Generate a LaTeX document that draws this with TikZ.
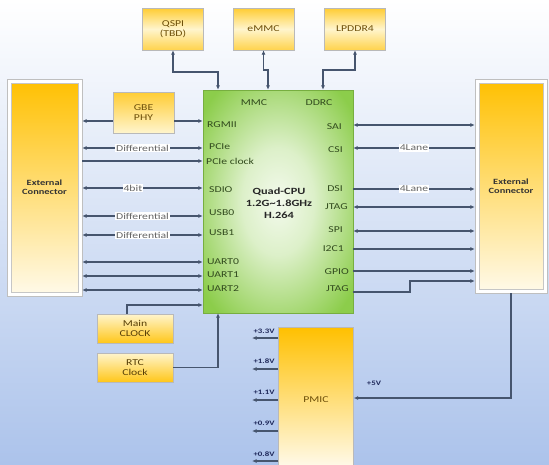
\documentclass[tikz,border=0pt]{standalone}
\usepackage{fontspec}
\setmainfont{Carlito}[FakeStretch=1.3]
\usetikzlibrary{arrows.meta}
\definecolor{ln}{RGB}{70,85,110}
\definecolor{bgb}{RGB}{172,195,235}
\definecolor{org}{RGB}{255,192,0}
\definecolor{pale}{RGB}{255,245,205}
\definecolor{grn}{RGB}{140,205,75}
\definecolor{cputxt}{RGB}{50,75,30}
\definecolor{boxtxt}{RGB}{110,80,10}
\definecolor{volt}{RGB}{30,40,90}
\pgfdeclareradialshading{cpushade}{\pgfpoint{0bp}{0bp}}{color(0bp)=(white!90!grn); color(12bp)=(white!70!grn); color(32bp)=(grn); color(50bp)=(grn)}
\begin{document}
\begin{tikzpicture}[x=1pt,y=-1pt,
  >={Latex[length=4.5pt,width=4pt]},
  wire/.style={draw=ln, line width=1.1pt},
  basefont/.style={font=\fontsize{9}{10.2}\selectfont},
  tbox/.style={basefont, draw=gray!55, top color=org!80!white, bottom color=org!70!white, middle color=pale, align=center, text=boxtxt, minimum width=61pt, minimum height=42pt, inner sep=1pt},
  gbox/.style={basefont, draw=gray!55, top color=org!80!white, bottom color=pale, align=center, text=boxtxt, minimum width=61pt, minimum height=41pt, inner sep=1pt},
  clkbox/.style={basefont, draw=gray!55, top color=pale, bottom color=org!90!white, align=center, text=boxtxt!80!black, minimum width=76pt, minimum height=29pt, inner sep=1pt},
  extbox/.style={draw=gray!50, fill=white, align=center, text=black!80, inner sep=1pt,
     font=\fontsize{8}{9.4}\selectfont\bfseries,
     path picture={\shade[top color=org, bottom color=white!92!org, draw=gray!45]
        ([shift={(4pt,-4pt)}]path picture bounding box.north west) rectangle
        ([shift={(-4pt,4pt)}]path picture bounding box.south east);}},
  cpubox/.style={draw=grn!85!black, shading=cpushade, minimum width=150pt, minimum height=223pt},
  pmicbox/.style={draw=gray!55, top color=org, bottom color=white!95!org, minimum width=75pt, minimum height=145pt, text=boxtxt, basefont},
  cpul/.style={basefont, text=cputxt, anchor=west, inner sep=0pt},
  cpur/.style={basefont, text=cputxt, anchor=east, inner sep=0pt},
  linelbl/.style={basefont, fill=white, text=black!60, inner sep=0.6pt},
  vlbl/.style={font=\fontsize{6.8}{7}\selectfont\bfseries, text=volt, inner sep=0pt}
]
\useasboundingbox (0,0) rectangle (549,464);
\shade[top color=white, bottom color=bgb] (0,0) rectangle (549,464);

% top boxes
\node[tbox] (qspi) at (173,29) {QSPI\\(TBD)};
\node[tbox] (emmc) at (263.5,29) {eMMC};
\node[tbox] (lpddr) at (355,29) {LPDDR4};

% CPU
\node[cpubox] (cpu) at (278,201.5) {};
\node[font=\fontsize{9.5}{12}\selectfont\bfseries, align=center, text=black!85] (core) at (279,203) {Quad-CPU\\1.2G\textasciitilde1.8GHz\\H.264};

% external connectors
\node[extbox, minimum width=75pt, minimum height=217pt] (extL) at (44.5,187.5) {External\\Connector};
\node[extbox, minimum width=72pt, minimum height=214pt] (extR) at (511,186) {External\\Connector};

% GBE PHY
\node[gbox] (gbe) at (143.5,112.5) {GBE\\PHY};

% clocks
\node[clkbox] (mainclk) at (135,328.5) {Main\\CLOCK};
\node[clkbox] (rtc) at (135,367.5) {RTC\\Clock};

% PMIC
\node[pmicbox] (pmic) at (316,399.5) {PMIC};

% CPU interface labels
\node[basefont, text=cputxt, inner sep=0pt] (lmmc) at (254,103) {MMC};
\node[basefont, text=cputxt, inner sep=0pt] (lddrc) at (319,103) {DDRC};
\node[cpul] (lrgmii) at (207,125) {RGMII};
\node[cpul] (lpcie) at (209,147) {PCIe};
\node[cpul] (lpcieclk) at (206,161) {PCIe clock};
\node[cpul] (lsdio) at (209,190) {SDIO};
\node[cpul] (lusb0) at (209,213) {USB0};
\node[cpul] (lusb1) at (209,233) {USB1};
\node[cpul] (luart0) at (207,262) {UART0};
\node[cpul] (luart1) at (207,275) {UART1};
\node[cpul] (luart2) at (207,289) {UART2};
\node[cpur] (lsai) at (342,127) {SAI};
\node[cpur] (lcsi) at (343,150) {CSI};
\node[cpur] (ldsi) at (343,189) {DSI};
\node[cpur] (ljtag) at (348,207) {JTAG};
\node[cpur] (lspi) at (343,230) {SPI};
\node[cpur] (li2c) at (344,249) {I2C1};
\node[cpur] (lgpio) at (349,272) {GPIO};
\node[cpur] (ljtagb) at (349,289) {JTAG};

% helper coordinates
\coordinate (xa) at (218,0);
\coordinate (xb) at (268,0);
\coordinate (xc) at (323,0);
\coordinate (xj) at (410,0);
\coordinate (xm) at (127,0);
\coordinate (xv) at (252,0);
\coordinate (yq) at (0,72);
\coordinate (ye) at (0,70);
\coordinate (yd) at (0,70);
\coordinate (ym) at (0,305);
\coordinate (y5) at (0,398);
\foreach \n/\v in {gb/121, d1/148, pc/161, sd/188, d2/216, d3/235, u0/262, u1/276, u2/290,
                   sa/125, cs/148, ds/189, jt/207, sp/231, ic/249, gp/271, jb/292, jc/281,
                   va/338, vb/369, vc/400, vd/431, ve/461}
  \coordinate (\n) at (0,\v);

% top connectors
\draw[wire,<->] (qspi.south) |- (xa |- yq) -- (xa |- cpu.north);
\draw[wire,<->] (emmc.south) -- (emmc.south |- ye) -- (xb |- ye) -- (xb |- cpu.north);
\draw[wire,<->] (lpddr.south) |- (xc |- yd) -- (xc |- cpu.north);

% left connectors
\draw[wire,<-] (extL.east |- gb) -- (gbe.west |- gb);
\draw[wire,->] (gbe.east |- gb) -- (cpu.west |- gb);
\draw[wire,<->] (extL.east |- d1) -- node[linelbl] {Differential} (cpu.west |- d1);
\draw[wire,->] (extL.east |- pc) -- (cpu.west |- pc);
\draw[wire,<->] (extL.east |- sd) -- node[linelbl, pos=0.42] {4bit} (cpu.west |- sd);
\draw[wire,<->] (extL.east |- d2) -- node[linelbl] {Differential} (cpu.west |- d2);
\draw[wire,<->] (extL.east |- d3) -- node[linelbl] {Differential} (cpu.west |- d3);
\draw[wire,<->] (extL.east |- u0) -- (cpu.west |- u0);
\draw[wire,<->] (extL.east |- u1) -- (cpu.west |- u1);
\draw[wire,<->] (extL.east |- u2) -- (cpu.west |- u2);

% right connectors
\draw[wire,<->] (cpu.east |- sa) -- (extR.west |- sa);
\draw[wire,<-] (cpu.east |- cs) -- node[linelbl] {4Lane} (extR.west |- cs);
\draw[wire,->] (cpu.east |- ds) -- node[linelbl] {4Lane} (extR.west |- ds);
\draw[wire,<->] (cpu.east |- jt) -- (extR.west |- jt);
\draw[wire,<->] (cpu.east |- sp) -- (extR.west |- sp);
\draw[wire,->] (cpu.east |- ic) -- (extR.west |- ic);
\draw[wire,->] (cpu.east |- gp) -- (extR.west |- gp);
\draw[wire,->] (cpu.east |- jb) -- (xj |- jb) -- (xj |- jc) -- (extR.west |- jc);

% clocks
\draw[wire,->] (mainclk.north -| xm) |- (cpu.west |- ym);
\draw[wire,->] (rtc.east) -| (xa |- cpu.south);

% power
\draw[wire,->] (extR.south) |- (pmic.east |- y5);
\node[vlbl] (l5v) at (374,383) {+5V};
\foreach \c/\t/\ly in {va/+3.3V/331, vb/+1.8V/361, vc/+1.1V/392, vd/+0.9V/423, ve/+0.8V/454}{
  \draw[wire,->] (pmic.west |- \c) -- (xv |- \c);
  \node[vlbl] (lbl\c) at (264,\ly) {\t};
}
\end{tikzpicture}
\end{document}
